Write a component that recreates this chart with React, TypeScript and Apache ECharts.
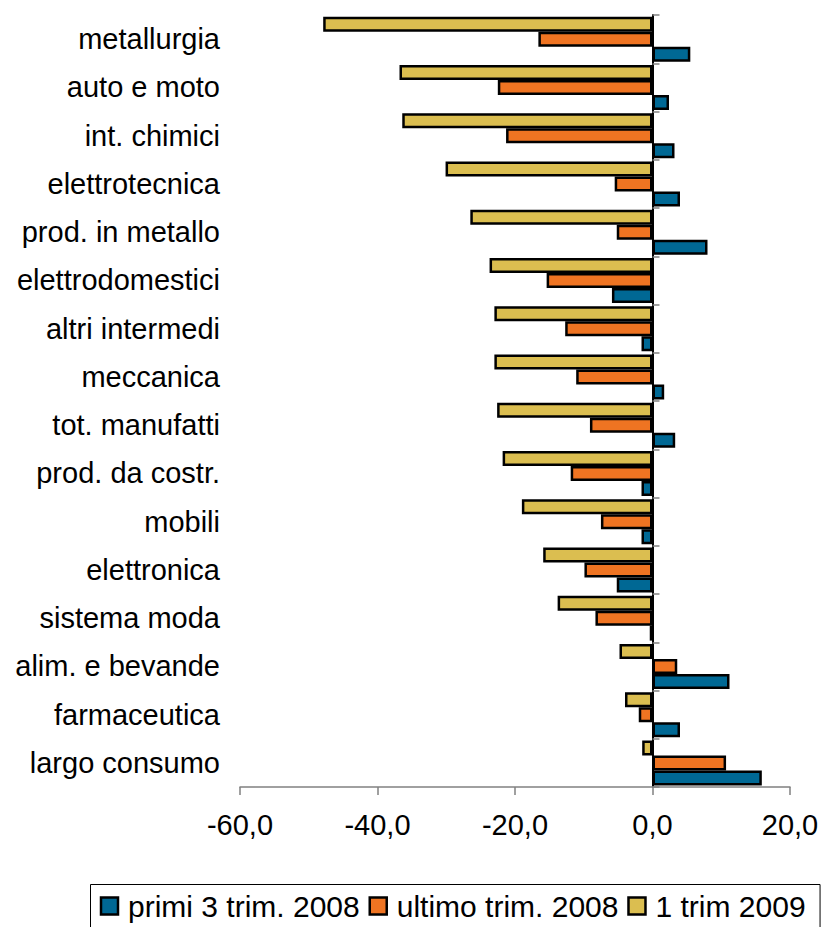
import React, { useEffect, useRef } from "react";
import * as echarts from "echarts";

// Sectors, listed top to bottom
const categories = [
  "metallurgia",
  "auto e moto",
  "int. chimici",
  "elettrotecnica",
  "prod. in metallo",
  "elettrodomestici",
  "altri intermedi",
  "meccanica",
  "tot. manufatti",
  "prod. da costr.",
  "mobili",
  "elettronica",
  "sistema moda",
  "alim. e bevande",
  "farmaceutica",
  "largo consumo",
];

const primi3Trim2008 = [5.5, 2.4, 3.2, 4.0, 8.0, -5.9, -1.6, 1.7, 3.3, -1.6, -1.6, -5.2, -0.4, 11.2, 4.0, 15.9];
const ultimoTrim2008 = [-16.6, -22.5, -21.3, -5.5, -5.2, -15.4, -12.7, -11.1, -9.1, -11.9, -7.5, -9.9, -8.3, 3.6, -2.0, 10.7];
const trim2009 = [-47.9, -36.8, -36.4, -30.1, -26.5, -23.7, -23.0, -23.0, -22.6, -21.8, -19.0, -15.9, -13.8, -4.8, -4.0, -1.5];

const seriesNames = ["primi 3 trim. 2008", "ultimo trim. 2008", "1 trim 2009"];
const seriesColors = ["#006894", "#EF7422", "#DBBE50"];
const xTicks = { min: -60, max: 20, interval: 20 };

const FONT = "'Liberation Sans', Arial, sans-serif";
const LEGEND_FONT_SIZE = 30;

// Legend drawn as a boxed row of square swatches and labels
function buildLegend() {
  const ctx = document.createElement("canvas").getContext("2d");
  const font = `${LEGEND_FONT_SIZE}px ${FONT}`;
  if (ctx) ctx.font = font;
  const measure = (s: string) => (ctx ? ctx.measureText(s).width : s.length * LEGEND_FONT_SIZE * 0.5);

  const boxLeft = 90;
  const boxTop = 884;
  const rowMid = 906;
  const swatch = 17;
  const swatchGap = 10;
  const itemGap = 10;

  const children: any[] = [];
  let x = boxLeft + 11;
  seriesNames.forEach((name, i) => {
    children.push({
      type: "rect",
      shape: { x, y: rowMid - swatch / 2, width: swatch, height: swatch },
      style: { fill: seriesColors[i], stroke: "#000", lineWidth: 2.5 },
    });
    x += swatch + swatchGap;
    children.push({
      type: "text",
      x,
      y: rowMid,
      style: {
        text: name,
        font,
        fill: "#000",
        verticalAlign: "middle",
        align: "left",
      },
    });
    x += measure(name) + itemGap;
  });

  const frame = {
    type: "rect",
    shape: { x: boxLeft + 0.5, y: boxTop + 0.5, width: x - boxLeft + 4, height: 60 },
    style: { fill: "none", stroke: "#000", lineWidth: 1 },
  };
  return { type: "group", children: [frame, ...children] };
}

export default function App() {
  const ref = useRef<HTMLDivElement>(null);

  useEffect(() => {
    document.body.style.margin = "0";
    if (!ref.current) return;
    const chart = echarts.init(ref.current, null, { renderer: "svg" });

    const barStyle = (color: string) => ({
      color,
      borderColor: "#000",
      borderWidth: 2.5,
    });

    chart.setOption({
      animation: false,
      backgroundColor: "#fff",
      textStyle: { fontFamily: FONT },
      grid: { left: 240, right: 33, top: 15, bottom: 140, containLabel: false },
      graphic: [buildLegend()],
      xAxis: {
        type: "value",
        min: xTicks.min,
        max: xTicks.max,
        interval: xTicks.interval,
        splitLine: { show: false },
        axisLine: { show: true, lineStyle: { color: "#808080", width: 1.5 } },
        axisTick: { show: true, length: 8, lineStyle: { color: "#808080", width: 1.5 } },
        axisLabel: {
          fontSize: 29,
          color: "#000",
          fontFamily: FONT,
          margin: 23,
          formatter: (v: number) => v.toFixed(1).replace(".", ","),
        },
      },
      yAxis: [
        {
          type: "category",
          data: categories,
          inverse: true,
          axisLine: { show: false, onZero: false },
          axisTick: { show: false },
          axisLabel: { fontSize: 29, color: "#000", fontFamily: FONT, margin: 20 },
        },
        {
          type: "category",
          data: categories,
          inverse: true,
          axisLine: { show: true, onZero: true, lineStyle: { color: "#000", width: 2 } },
          axisTick: { show: true, length: 7, lineStyle: { color: "#808080", width: 1.5 } },
          axisLabel: { show: false },
        },
      ],
      series: [
        {
          name: seriesNames[2],
          type: "bar",
          yAxisIndex: 0,
          data: trim2009,
          barWidth: 15,
          barGap: "0%",
          itemStyle: barStyle(seriesColors[2]),
        },
        {
          name: seriesNames[1],
          type: "bar",
          yAxisIndex: 0,
          data: ultimoTrim2008,
          barWidth: 15,
          barGap: "0%",
          itemStyle: barStyle(seriesColors[1]),
        },
        {
          name: seriesNames[0],
          type: "bar",
          yAxisIndex: 0,
          data: primi3Trim2008,
          barWidth: 15,
          barGap: "0%",
          itemStyle: barStyle(seriesColors[0]),
        },
      ],
    });

    return () => chart.dispose();
  }, []);

  return <div ref={ref} style={{ width: 823, height: 927 }} />;
}
